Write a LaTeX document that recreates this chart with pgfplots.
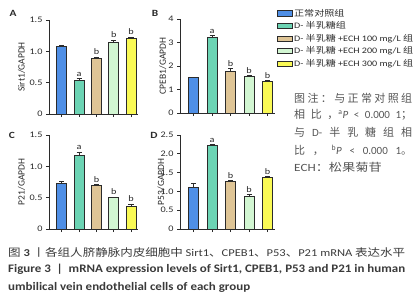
\documentclass[border=0pt]{standalone}
\usepackage{fontspec}
\setmainfont{Carlito}
\newfontfamily\cjk{Noto Sans CJK SC}
\newfontfamily\cjkw{Noto Sans CJK SC}[FakeStretch=1.2]
\newfontfamily\latw{Carlito}[FakeStretch=1.2]
\usepackage{graphicx}
\usepackage{pgfplots}
\pgfplotsset{compat=1.18}
\definecolor{c1}{HTML}{4F8FE6}
\definecolor{c2}{HTML}{6CD4B4}
\definecolor{c3}{HTML}{DFC596}
\definecolor{c4}{HTML}{D2F6D2}
\definecolor{c5}{HTML}{FAFA55}
\definecolor{edge}{HTML}{2B2B2B}
\definecolor{notegray}{HTML}{555555}
\definecolor{capgray}{HTML}{3A3A3A}
\pgfplotsset{
  panel/.style={scale only axis, height=94pt, axis lines=left,
    xmin=0.26, xmax=5.4, ymin=0, xtick={1,2,3,4,5}, xticklabels={},
    tick align=outside, major tick length=3pt,
    axis line style={line width=0.9pt, -, color=edge},
    tick style={line width=0.8pt, color=edge},
    ticklabel style={font=\latw\fontsize{8.5}{8.5}\selectfont, color=edge},
    /pgf/number format/assume math mode=true,
    ylabel style={font=\fontsize{9.5}{9.5}\selectfont, color=edge, anchor=center},
    clip=false},
  br/.style={ybar, bar width=10pt, draw=edge, line width=0.9pt,
    error bars/.cd, y dir=plus, y explicit,
    error bar style={line width=0.8pt, color=edge},
    error mark options={rotate=90, mark size=2.6pt, line width=0.8pt, color=edge},
    /pgfplots/.cd,
    legend image code/.code={\draw[fill=##1, draw=edge, line width=0.8pt] (0pt,-2.6pt) rectangle (15pt,2.6pt);}},
  lt/.style={draw=none, mark=none, nodes near coords, point meta=explicit symbolic,
    nodes near coords style={anchor=south, font=\latw\fontsize{8.5}{8.5}\selectfont, color=edge, inner sep=1.2pt}}
}
\begin{document}
\begin{tikzpicture}[x=1pt,y=1pt]
\path[use as bounding box] (0pt,0pt) rectangle (415pt,-300pt);
% ---------------- A
\begin{axis}[panel, at={(49pt,-114pt)}, anchor=south west, width=89pt,
  ymax=1.5, ytick={0,0.5,1,1.5}, yticklabels={0,0.5,1.0,1.5},
  ylabel={Sirt1/GAPDH}, ylabel style={at={(axis description cs:-0.31,0.5)}}]
\addplot[br, fill=c1] coordinates {(1,1.08) +- (0,0.01)};
\addplot[br, fill=c2] coordinates {(2,0.53) +- (0,0.04)};
\addplot[br, fill=c3] coordinates {(3,0.89) +- (0,0.02)};
\addplot[br, fill=c4] coordinates {(4,1.14) +- (0,0.04)};
\addplot[br, fill=c5] coordinates {(5,1.21) +- (0,0.02)};
\addplot[lt] coordinates {(2,0.58)[a] (3,0.92)[b] (4,1.19)[b] (5,1.24)[b]};
\end{axis}
% ---------------- B
\begin{axis}[panel, at={(180pt,-113pt)}, anchor=south west, width=95pt,
  ymax=4, ytick={0,1,2,3,4},
  ylabel={CPEB1/GAPDH}, ylabel style={at={(axis description cs:-0.18,0.5)}},
  legend style={at={(1.02,1.12)}, anchor=north west, draw=none, fill=none,
    font=\latw\fontsize{8.4}{8.4}\selectfont, text=edge, row sep=1.6pt, inner sep=0pt,
    nodes={inner sep=1.2pt}},
  legend cell align=left]
\addplot[br, fill=c1] coordinates {(1,1.50) +- (0,0.02)};
\addplot[br, fill=c2] coordinates {(2,3.22) +- (0,0.09)};
\addplot[br, fill=c3] coordinates {(3,1.76) +- (0,0.14)};
\addplot[br, fill=c4] coordinates {(4,1.56) +- (0,0.05)};
\addplot[br, fill=c5] coordinates {(5,1.35) +- (0,0.04)};
\addplot[lt] coordinates {(2,3.33)[a] (3,1.92)[b] (4,1.63)[b] (5,1.41)[b]};
\legend{{\cjkw 正常对照组}, {D- {\cjkw 半乳糖组}}, {D- {\cjkw 半乳糖} +ECH 100 mg/L {\cjkw 组}}, {D- {\cjkw 半乳糖} +ECH 200 mg/L {\cjkw 组}}, {D- {\cjkw 半乳糖} +ECH 300 mg/L {\cjkw 组}}}
\end{axis}
% ---------------- C
\begin{axis}[panel, at={(49pt,-229pt)}, anchor=south west, width=89pt,
  ymax=1.5, ytick={0,0.5,1,1.5}, yticklabels={0,0.5,1.0,1.5},
  ylabel={P21/GAPDH}, ylabel style={at={(axis description cs:-0.31,0.5)}}]
\addplot[br, fill=c1] coordinates {(1,0.73) +- (0,0.03)};
\addplot[br, fill=c2] coordinates {(2,1.18) +- (0,0.05)};
\addplot[br, fill=c3] coordinates {(3,0.69) +- (0,0.02)};
\addplot[br, fill=c4] coordinates {(4,0.50) +- (0,0.01)};
\addplot[br, fill=c5] coordinates {(5,0.36) +- (0,0.04)};
\addplot[lt] coordinates {(2,1.24)[a] (3,0.72)[b] (4,0.52)[b] (5,0.41)[b]};
\end{axis}
% ---------------- D
\begin{axis}[panel, at={(180pt,-229pt)}, anchor=south west, width=95pt,
  ymax=2.5, ytick={0,0.5,1,1.5,2,2.5}, yticklabels={0,0.5,1.0,1.5,2.0,2.5},
  ylabel={P53/GAPDH}, ylabel style={at={(axis description cs:-0.2,0.5)}}]
\addplot[br, fill=c1] coordinates {(1,1.10) +- (0,0.11)};
\addplot[br, fill=c2] coordinates {(2,2.21) +- (0,0.05)};
\addplot[br, fill=c3] coordinates {(3,1.27) +- (0,0.03)};
\addplot[br, fill=c4] coordinates {(4,0.87) +- (0,0.04)};
\addplot[br, fill=c5] coordinates {(5,1.36) +- (0,0.05)};
\addplot[lt] coordinates {(2,2.27)[a] (3,1.31)[b] (4,0.92)[b] (5,1.42)[b]};
\end{axis}
% panel letters
\begin{scope}[every node/.style={font=\latw\bfseries\fontsize{9.5}{9.5}\selectfont, text=edge}]
\node at (13pt,-13pt) {A};
\node at (155pt,-13pt) {B};
\node at (12pt,-135pt) {C};
\node at (154pt,-135pt) {D};
\end{scope}
% note
\begin{scope}[every node/.style={anchor=west, inner sep=0pt, text=notegray, font=\fontsize{11}{11}\selectfont}]
\node at (294pt,-98pt) {\hbox to 118pt{\cjk 图\hfil 注\hfil ：\hfil 与\hfil 正\hfil 常\hfil 对\hfil 照\hfil 组}};
\node at (294pt,-115pt) {\hbox to 118pt{{\cjk 相\hfil 比\hfil ，}\textsuperscript{a}\textit{P}\hfil <\hfil 0.000\hfil 1{\cjk ；}}};
\node at (294pt,-132pt) {\hbox to 118pt{{\cjk 与}\hfil D-\hfil {\cjk 半}\hfil {\cjk 乳}\hfil {\cjk 糖}\hfil {\cjk 组}\hfil {\cjk 相}}};
\node at (294pt,-150pt) {\hbox to 118pt{{\cjk 比\hfil ，}\hfil\textsuperscript{b}\textit{P}\hfil <\hfil 0.000\hfil 1{\cjk 。}}};
\node at (294pt,-167pt) {\latw ECH{\cjkw ：松果菊苷}};
\end{scope}
% caption
\node[anchor=west, inner sep=0pt, text=capgray, font=\fontsize{10.5}{10.5}\selectfont] at (8pt,-252pt)
  {\resizebox{397pt}{\height}{{\cjk 图} \textbf{3} {\cjk 丨各组人脐静脉内皮细胞中} Sirt1{\cjk 、}CPEB1{\cjk 、}P53{\cjk 、}P21 mRNA {\cjk 表达水平}}};
\node[anchor=west, inner sep=0pt, text=capgray, font=\bfseries\fontsize{11.5}{11.5}\selectfont] at (8pt,-269pt)
  {\resizebox{397pt}{\height}{Figure 3\ \ |\ \ mRNA expression levels of Sirt1, CPEB1, P53 and P21 in human}};
\node[anchor=west, inner sep=0pt, text=capgray, font=\bfseries\fontsize{11.5}{11.5}\selectfont] at (8pt,-287pt)
  {\resizebox{242pt}{\height}{umbilical vein endothelial cells of each group}};
\end{tikzpicture}
\end{document}
